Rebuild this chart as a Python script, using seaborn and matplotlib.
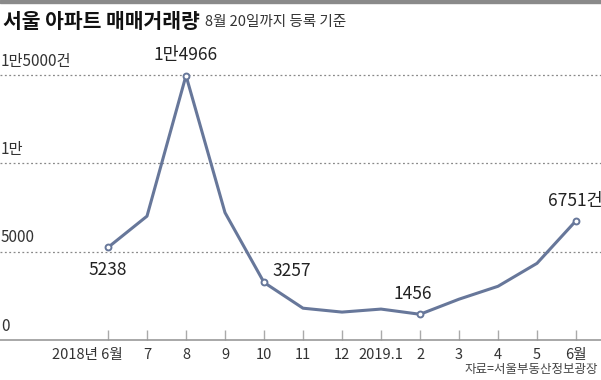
import numpy as np
import pandas as pd
import matplotlib.pyplot as plt
import matplotlib.transforms as mtrans
import seaborn as sns

# data
months = ['2018년 6월', '7', '8', '9', '10', '11', '12', '2019.1', '2', '3', '4', '5', '6월']
volume = [5238, 7010, 14966, 7210, 3257, 1800, 1580, 1750, 1456, 2310, 3040, 4340, 6751]
labeled = [0, 2, 4, 8, 12]
yticks = [0, 5000, 10000, 15000]
ytick_labels = ['0', '5000', '1만', '1만5000건']

sns.set_theme(style='white')
plt.rcParams['font.family'] = ['Noto Sans CJK KR', 'DejaVu Sans']

line_color = '#67779a'
text_color = '#222222'

df = pd.DataFrame({'idx': np.arange(len(months)), 'volume': volume})

fig = plt.figure(figsize=(6.01, 3.8), dpi=100)
ax = fig.add_axes([0, 40 / 380, 1, 300 / 380])

sns.lineplot(data=df, x='idx', y='volume', color=line_color, linewidth=2.2, ax=ax)
mk = df.iloc[labeled]
ax.scatter(mk['idx'], mk['volume'], s=18, facecolor='white', edgecolor=line_color,
           linewidth=1.4, zorder=5)

ax.set_xlim(-108 / 39, (601 - 108) / 39)
ax.set_ylim(0, 16980)

# dotted gridlines
for v in yticks[1:]:
    ax.axhline(v, color='#888888', linestyle=(0, (1.5, 2)), linewidth=0.9, zorder=0)
for v, lab in zip(yticks, ytick_labels):
    ax.text(-108 / 39 + 0.02, v + 300, lab, fontsize=11, color='#333333', va='bottom', ha='left')

for s in ['top', 'left', 'right']:
    ax.spines[s].set_visible(False)
ax.spines['bottom'].set_color('#999999')
ax.spines['bottom'].set_linewidth(1.2)
ax.set_yticks([])
ax.set_xticks(df['idx'])
ax.set_xticklabels(months, fontsize=10.5, color='#333333')
ax.tick_params(axis='x', direction='in', length=7, width=1, color='#aaaaaa', pad=6, bottom=True)
ax.set_xlabel('')
ax.set_ylabel('')
first = ax.get_xticklabels()[0]
first.set_horizontalalignment('right')
first.set_transform(first.get_transform() + mtrans.ScaledTranslation(15 / 100, 0, fig.dpi_scale_trans))

# value labels
fs = 12.5
ax.annotate('5238', (0, 5238), xytext=(0, -10), textcoords='offset points',
            ha='center', va='top', fontsize=fs, color=text_color)
ax.annotate('1만4966', (2, 14966), xytext=(0, 8), textcoords='offset points',
            ha='center', va='bottom', fontsize=fs, color=text_color)
ax.annotate('3257', (4, 3257), xytext=(6, 2), textcoords='offset points',
            ha='left', va='bottom', fontsize=fs, color=text_color)
ax.annotate('1456', (8, 1456), xytext=(-5, 8), textcoords='offset points',
            ha='center', va='bottom', fontsize=fs, color=text_color)
ax.annotate('6751건', (12, 6751), xytext=(19, 8), textcoords='offset points',
            ha='right', va='bottom', fontsize=fs, color=text_color)

# title and source
fig.patches.append(plt.Rectangle((0, 1 - 3 / 380), 1, 3 / 380, transform=fig.transFigure,
                                 color='#8a8a8a'))
fig.text(3 / 601, 1 - 21 / 380, '서울 아파트 매매거래량', fontsize=14.7, fontweight='bold',
         color='#111111', va='center', ha='left')
fig.text(205 / 601, 1 - 22 / 380, '8월 20일까지 등록 기준', fontsize=10.5,
         color='#333333', va='center', ha='left')
fig.text(598 / 601, 1 - 369 / 380, '자료=서울부동산정보광장', fontsize=9,
         color='#444444', va='center', ha='right')

fig.savefig('out.png', dpi=100)
